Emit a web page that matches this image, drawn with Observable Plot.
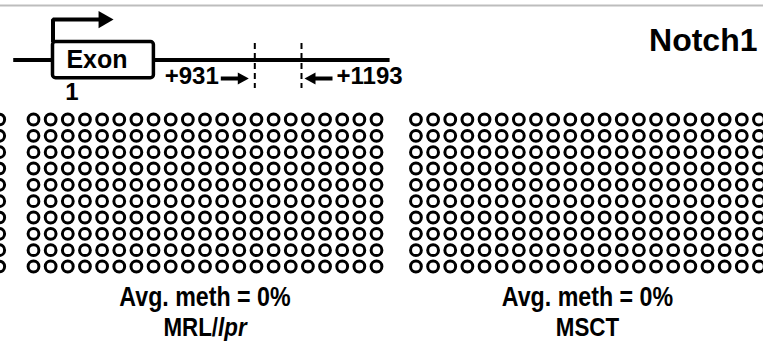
<!DOCTYPE html>
<html><head><meta charset="utf-8">
<script src="https://cdn.jsdelivr.net/npm/d3@7"></script>
<script src="https://cdn.jsdelivr.net/npm/@observablehq/plot@0.6"></script>
<style>
html,body{margin:0;padding:0;background:#fff;}
#chart{width:763px;height:342px;overflow:hidden;background:#fff;}
#chart svg{display:block;}
</style></head><body><div id="chart"></div>
<script>
// ---------- data ----------
const geneName = "Notch1";
const geneSpan = [-180, 1690];        // schematic gene line (bp, relative to TSS)
const exonSpan = [1, 466];            // exon 1 (schematic)
const exonLabel = "Exon";
const exonNumber = "1";
const tssArrowEnd = 234;              // end of the transcription-start arrow
const regionBounds = [931, 1193];     // analysed region
const regionLabels = ["+931", "+1193"];

const sampleNames = [null, "MRL/lpr", "MSCT"];
const sampleColumnOffsets = [-22, 0, 22.3];
// one string per clone, one character per CpG: 0 = unmethylated, 1 = methylated
const clonesPrev = [
  "000000000000000000000","000000000000000000000","000000000000000000000","000000000000000000000","000000000000000000000",
  "000000000000000000000","000000000000000000000","000000000000000000000","000000000000000000000","000000000000000000000"];
const clonesMRL = [
  "000000000000000000000","000000000000000000000","000000000000000000000","000000000000000000000","000000000000000000000",
  "000000000000000000000","000000000000000000000","000000000000000000000","000000000000000000000","000000000000000000000"];
const clonesMSCT = [
  "000000000000000000000","000000000000000000000","000000000000000000000","000000000000000000000","000000000000000000000",
  "000000000000000000000","000000000000000000000","000000000000000000000","000000000000000000000","000000000000000000000"];
const sampleClones = [clonesPrev, clonesMRL, clonesMSCT];

// ---------- build tables ----------
const cells = [];
sampleClones.forEach((clones, s) => clones.forEach((row, r) => [...row].forEach((ch, c) =>
  cells.push({sample: s, col: sampleColumnOffsets[s] + c, row: r, meth: +ch}))));
const labels = sampleNames.map((name, s) => {
  if (!name) return null;
  const sites = sampleClones[s].join("");
  const avg = Math.round(100 * [...sites].filter(ch => ch === "1").length / sites.length);
  return {name, cx: sampleColumnOffsets[s] + (sampleClones[s][0].length - 1) / 2, avg};
}).filter(Boolean);

const font = "'Liberation Sans', Arial, Helvetica, sans-serif";

const labelArrow = {draw(ctx) {
  ctx.moveTo(0, 0); ctx.lineTo(-11, -6); ctx.lineTo(-11, -2); ctx.lineTo(-28, -2);
  ctx.lineTo(-28, 2); ctx.lineTo(-11, 2); ctx.lineTo(-11, 6); ctx.closePath();
}};

// ---------- gene diagram ----------
const topPlot = Plot.plot({
  width: 763, height: 106, marginTop: 5, marginRight: 0, marginBottom: 0, marginLeft: 0,
  x: {type: "linear", domain: [exonSpan[0], regionBounds[0], regionBounds[1]], range: [52.5, 254.3, 301], axis: null},
  y: {domain: [-1, 1], range: [77.7, 41.5], axis: null},
  style: {fontFamily: font, background: "white", overflow: "visible"},
  marks: [
    Plot.frame({anchor: "top", stroke: "#bdbdbd", strokeWidth: 2}),
    Plot.ruleY([0], {x1: geneSpan[0], x2: geneSpan[1], strokeWidth: 4}),
    Plot.line([{x: exonSpan[0], y: 1}, {x: exonSpan[0], y: 2.24}, {x: tssArrowEnd, y: 2.24}],
      {x: "x", y: "y", strokeWidth: 4, strokeLinejoin: "miter", strokeLinecap: "butt"}),
    Plot.dot([tssArrowEnd], {x: d => d, y: 2.24, symbol: "triangle", r: 6.43, rotate: 90, fill: "black", stroke: null}),
    Plot.rect([exonSpan], {x1: d => d[0], x2: d => d[1], y1: -1, y2: 1, fill: "white", stroke: "black", strokeWidth: 3.5, rx: 3}),
    Plot.text([exonLabel], {x: (exonSpan[0] + exonSpan[1]) / 2, y: -0.41, dx: -6.5, text: d => d, lineAnchor: "bottom", fontSize: 25, fontWeight: "bold"}),
    Plot.text([exonNumber], {x: exonSpan[0], y: -2.23, dx: 19, text: d => d, lineAnchor: "bottom", fontSize: 24, fontWeight: "bold"}),
    Plot.ruleX(regionBounds, {x: d => d, y1: 0.92, y2: -1.57, strokeWidth: 2, strokeDasharray: "6,4"}),
    Plot.dot([regionBounds[0]], {x: d => d, y: -1.02, dx: -6, symbol: labelArrow, r: 5, fill: "black", stroke: null}),
    Plot.dot([regionBounds[1]], {x: d => d, y: -1.02, dx: 3, symbol: labelArrow, r: 5, rotate: 180, fill: "black", stroke: null}),
    Plot.text([regionLabels[0]], {x: regionBounds[0], y: -1.32, dx: -36, text: d => d, textAnchor: "end", lineAnchor: "bottom", fontSize: 24, fontWeight: "bold"}),
    Plot.text([regionLabels[1]], {x: regionBounds[1], y: -1.32, dx: 35, text: d => d, textAnchor: "start", lineAnchor: "bottom", fontSize: 24, fontWeight: "bold"}),
    Plot.text([geneName], {frameAnchor: "top-right", dx: -6, dy: 23, text: d => d, fontSize: 32, fontWeight: "bold"})
  ]
});

// ---------- methylation grid ----------
const gridPlot = Plot.plot({
  width: 763, height: 236, margin: 0,
  x: {domain: [0, 20], range: [33, 376], axis: null},
  y: {domain: [0, 9], range: [13, 160], axis: null},
  color: {type: "identity"},
  style: {fontFamily: font, background: "white", overflow: "visible"},
  marks: [
    Plot.dot(cells, {x: "col", y: "row", r: 5.4, stroke: "black", strokeWidth: 3, fill: d => d.meth ? "black" : "white"}),
    Plot.text(labels, {x: "cx", y: 11.4, text: d => `Avg. meth = ${d.avg}%`, lineAnchor: "bottom", fontSize: 27, fontWeight: "bold", className: "narrow"}),
    Plot.text(labels, {x: "cx", y: 13.25, text: "name", lineAnchor: "bottom", fontSize: 26, fontWeight: "bold", className: "narrow"})
  ]
});

// condensed bottom labels + italic genotype suffix
gridPlot.querySelectorAll(".narrow text").forEach(t => {
  const tr = t.getAttribute("transform");
  if (tr) {
    t.setAttribute("transform", tr + " scale(0.86,1)");
  } else {
    const x = +t.getAttribute("x") || 0, y = +t.getAttribute("y") || 0;
    t.removeAttribute("x"); t.removeAttribute("y");
    t.setAttribute("transform", `translate(${x},${y}) scale(0.86,1)`);
  }
  if (t.textContent === "MRL/lpr") {
    t.textContent = "MRL/";
    const ts = document.createElementNS("http://www.w3.org/2000/svg", "tspan");
    ts.setAttribute("font-style", "italic");
    ts.textContent = "lpr";
    t.appendChild(ts);
  }
});

const chart = document.getElementById("chart");
chart.appendChild(topPlot);
chart.appendChild(gridPlot);
</script></body></html>
